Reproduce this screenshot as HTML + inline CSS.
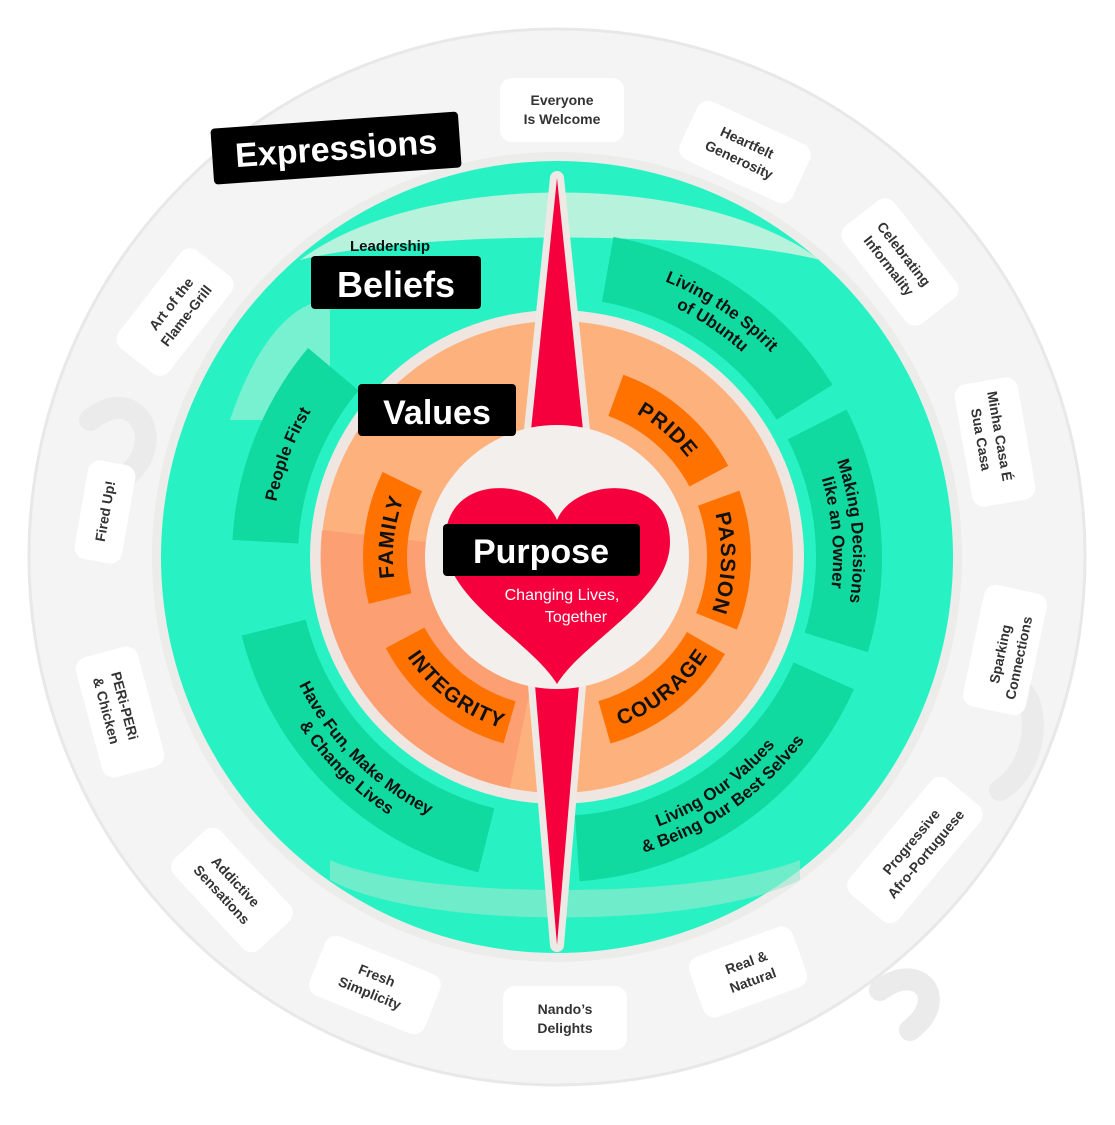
<!DOCTYPE html>
<html><head><meta charset="utf-8"><style>
html,body{margin:0;padding:0;background:#fff;}
svg{display:block;font-family:"Liberation Sans",sans-serif;}
.ex{font-size:14px;font-weight:bold;fill:#333;text-anchor:middle;}
.bl{font-size:17px;font-weight:bold;fill:#111;}
.vl{font-size:21px;font-weight:bold;fill:#111;letter-spacing:1px;}
</style></head><body>
<svg width="1115" height="1125" viewBox="0 0 1115 1125" xmlns="http://www.w3.org/2000/svg">
<defs>
<path id="cw296" d="M557,853 A296,296 0 1 1 557,261 A296,296 0 1 1 557,853"/>
<path id="cw286" d="M557,843 A286,286 0 1 1 557,271 A286,286 0 1 1 557,843"/>
<path id="cw276" d="M557,833 A276,276 0 1 1 557,281 A276,276 0 1 1 557,833"/>
<path id="ccw288" d="M557,269 A288,288 0 1 0 557,845 A288,288 0 1 0 557,269"/>
<path id="ccw308" d="M557,249 A308,308 0 1 0 557,865 A308,308 0 1 0 557,249"/>
<path id="vcw" d="M557,721 A164,164 0 1 1 557,393 A164,164 0 1 1 557,721"/>
<path id="vccw" d="M557,377 A180,180 0 1 0 557,737 A180,180 0 1 0 557,377"/>
</defs>
<!-- outer disc -->
<circle cx="557" cy="557" r="528" fill="#f4f4f4" stroke="#e8e8e8" stroke-width="3"/>
<g fill="none" stroke="#ebebeb" stroke-width="22" stroke-linecap="round">
<path d="M90,420 C140,380 170,450 120,480"/>
<path d="M990,690 C1040,660 1050,760 1000,790"/>
<path d="M880,990 C920,960 950,1000 910,1030"/>
</g>
<!-- expression label boxes -->
<g fill="#ffffff">
<rect x="-62" y="-32" width="124" height="64" rx="12" transform="translate(562,110)"/>
<rect x="-62" y="-32" width="124" height="64" rx="12" transform="translate(745,152) rotate(25)"/>
<rect x="-62" y="-32" width="124" height="64" rx="12" transform="translate(900,262) rotate(52)"/>
<rect x="-62" y="-32" width="124" height="64" rx="12" transform="translate(995,442) rotate(80)"/>
<rect x="-62" y="-32" width="124" height="64" rx="12" transform="translate(1005,650) rotate(-78)"/>
<rect x="-75" y="-32" width="150" height="64" rx="12" transform="translate(915,850) rotate(-50)"/>
<rect x="-55" y="-32" width="110" height="64" rx="12" transform="translate(748,972) rotate(-20)"/>
<rect x="-62" y="-32" width="124" height="64" rx="12" transform="translate(565,1018)"/>
<rect x="-62" y="-32" width="124" height="64" rx="12" transform="translate(375,985) rotate(22)"/>
<rect x="-62" y="-32" width="124" height="64" rx="12" transform="translate(232,890) rotate(47)"/>
<rect x="-62" y="-32" width="124" height="64" rx="12" transform="translate(120,712) rotate(75)"/>
<rect x="-50" y="-24" width="100" height="48" rx="12" transform="translate(105,512) rotate(-80)"/>
<rect x="-62" y="-32" width="124" height="64" rx="12" transform="translate(175,312) rotate(-52)"/>
</g>
<g class="ex">
<text transform="translate(562,105)">Everyone<tspan x="0" dy="19">Is Welcome</tspan></text>
<text transform="translate(745,147) rotate(25)">Heartfelt<tspan x="0" dy="19">Generosity</tspan></text>
<text transform="translate(900,257) rotate(52)">Celebrating<tspan x="0" dy="19">Informality</tspan></text>
<text transform="translate(995,437) rotate(80)">Minha Casa É<tspan x="0" dy="19">Sua Casa</tspan></text>
<text transform="translate(1005,655) rotate(-78)">Sparking<tspan x="0" dy="19">Connections</tspan></text>
<text transform="translate(915,845) rotate(-50)">Progressive<tspan x="0" dy="19">Afro-Portuguese</tspan></text>
<text transform="translate(748,967) rotate(-20)">Real &amp;<tspan x="0" dy="19">Natural</tspan></text>
<text transform="translate(565,1014)">Nando’s<tspan x="0" dy="19">Delights</tspan></text>
<text transform="translate(375,980) rotate(22)">Fresh<tspan x="0" dy="19">Simplicity</tspan></text>
<text transform="translate(232,885) rotate(47)">Addictive<tspan x="0" dy="19">Sensations</tspan></text>
<text transform="translate(120,707) rotate(75)">PERi-PERi<tspan x="0" dy="19">&amp; Chicken</tspan></text>
<text transform="translate(110,512) rotate(-80)">Fired Up!</text>
<text transform="translate(175,307) rotate(-52)">Art of the<tspan x="0" dy="19">Flame-Grill</tspan></text>
</g>
<!-- green ring -->
<circle cx="557" cy="557" r="405" fill="#ececea"/>
<circle cx="557" cy="557" r="396" fill="#28f2c4"/>
<path d="M300,260 C420,170 700,170 820,260 C700,230 420,230 300,260Z" fill="#b6f2dc"/>
<path d="M230,420 C260,330 300,300 330,300 L330,420Z" fill="#aef0d8" opacity="0.6"/>
<path d="M330,880 C420,930 700,930 800,880 L800,860 C700,900 420,900 330,860Z" fill="#9fe8cf" opacity="0.6"/>
<g fill="none" stroke="#10da9f" stroke-width="66">
<circle cx="557" cy="557" r="292" stroke-dasharray="244.6 2000" transform="rotate(-80 557 557)"/>
<circle cx="557" cy="557" r="292" stroke-dasharray="224.3 2000" transform="rotate(-27 557 557)"/>
<circle cx="557" cy="557" r="292" stroke-dasharray="316 2000" transform="rotate(24 557 557)"/>
<circle cx="557" cy="557" r="292" stroke-dasharray="316 2000" transform="rotate(104 557 557)"/>
<circle cx="557" cy="557" r="292" stroke-dasharray="188.6 2000" transform="rotate(183 557 557)"/>
</g>
<g class="bl" text-anchor="middle">
<text><textPath href="#cw296" startOffset="59.4%">Living the Spirit</textPath></text>
<text><textPath href="#cw276" startOffset="59.4%">of Ubuntu</textPath></text>
<text><textPath href="#cw296" startOffset="73.6%">Making Decisions</textPath></text>
<text><textPath href="#cw276" startOffset="73.6%">like an Owner</textPath></text>
<text><textPath href="#cw286" startOffset="30.8%">People First</textPath></text>
<text><textPath href="#ccw288" startOffset="37.5%">Have Fun, Make Money</textPath></text>
<text><textPath href="#ccw308" startOffset="37.5%">&amp; Change Lives</textPath></text>
<text><textPath href="#ccw288" startOffset="59.7%">Living Our Values</textPath></text>
<text><textPath href="#ccw308" startOffset="59.7%">&amp; Being Our Best Selves</textPath></text>
</g>
<!-- orange disc -->
<circle cx="557" cy="557" r="247" fill="#efe6e2"/>
<circle cx="557" cy="557" r="236" fill="#fdb27e"/>
<path d="M557,557 L322,530 A236,236 0 0 0 510,788 Z" fill="#fb9a72" opacity="0.75"/>
<g fill="none" stroke="#ff7200" stroke-width="44">
<circle cx="557" cy="557" r="172" stroke-dasharray="126 2000" transform="rotate(-70 557 557)"/>
<circle cx="557" cy="557" r="172" stroke-dasharray="126 2000" transform="rotate(-20 557 557)"/>
<circle cx="557" cy="557" r="172" stroke-dasharray="132 2000" transform="rotate(30 557 557)"/>
<circle cx="557" cy="557" r="172" stroke-dasharray="138 2000" transform="rotate(106 557 557)"/>
<circle cx="557" cy="557" r="172" stroke-dasharray="120 2000" transform="rotate(166 557 557)"/>
</g>
<g class="vl" text-anchor="middle">
<text><textPath href="#vcw" startOffset="61.4%">PRIDE</textPath></text>
<text><textPath href="#vcw" startOffset="75.6%">PASSION</textPath></text>
<text><textPath href="#vcw" startOffset="26.9%">FAMILY</textPath></text>
<text><textPath href="#vccw" startOffset="60.8%">COURAGE</textPath></text>
<text><textPath href="#vccw" startOffset="39.7%">INTEGRITY</textPath></text>
</g>
<!-- needle -->
<g stroke="#efe9e6" stroke-width="14" stroke-linejoin="round" fill="#f5003c">
<path d="M557,178 L583,430 L531,430 Z"/>
<path d="M535,685 L579,685 L557,945 Z"/>
</g>
<path d="M557,178 L583,430 L531,430 Z" fill="#f5003c"/>
<path d="M535,685 L579,685 L557,945 Z" fill="#f5003c"/>
<!-- inner circle -->
<circle cx="557" cy="557" r="132" fill="#f3efec"/>
<path d="M557,520 C540,478 445,470 445,542 C445,600 530,640 557,684 C584,640 670,600 670,542 C670,470 574,478 557,520 Z" fill="#f5003c"/>
<!-- titles -->
<g transform="rotate(-4 337 148)">
<rect x="212" y="120" width="248" height="56" rx="4" fill="#000"/>
<text x="336" y="160" font-size="34" font-weight="bold" fill="#fff" text-anchor="middle">Expressions</text>
</g>
<text x="390" y="251" font-size="15" font-weight="bold" fill="#111" text-anchor="middle">Leadership</text>
<rect x="311" y="256" width="170" height="53" rx="4" fill="#000"/>
<text x="396" y="297" font-size="36" font-weight="bold" fill="#fff" text-anchor="middle">Beliefs</text>
<rect x="358" y="384" width="158" height="52" rx="4" fill="#000"/>
<text x="437" y="424" font-size="34" font-weight="bold" fill="#fff" text-anchor="middle">Values</text>
<rect x="443" y="524" width="197" height="52" rx="4" fill="#000"/>
<text x="541" y="563" font-size="34" font-weight="bold" fill="#fff" text-anchor="middle">Purpose</text>
<text x="562" y="600" font-size="16" fill="#fff" text-anchor="middle">Changing Lives,</text>
<text x="576" y="622" font-size="16" fill="#fff" text-anchor="middle">Together</text>
</svg>
</body></html>
